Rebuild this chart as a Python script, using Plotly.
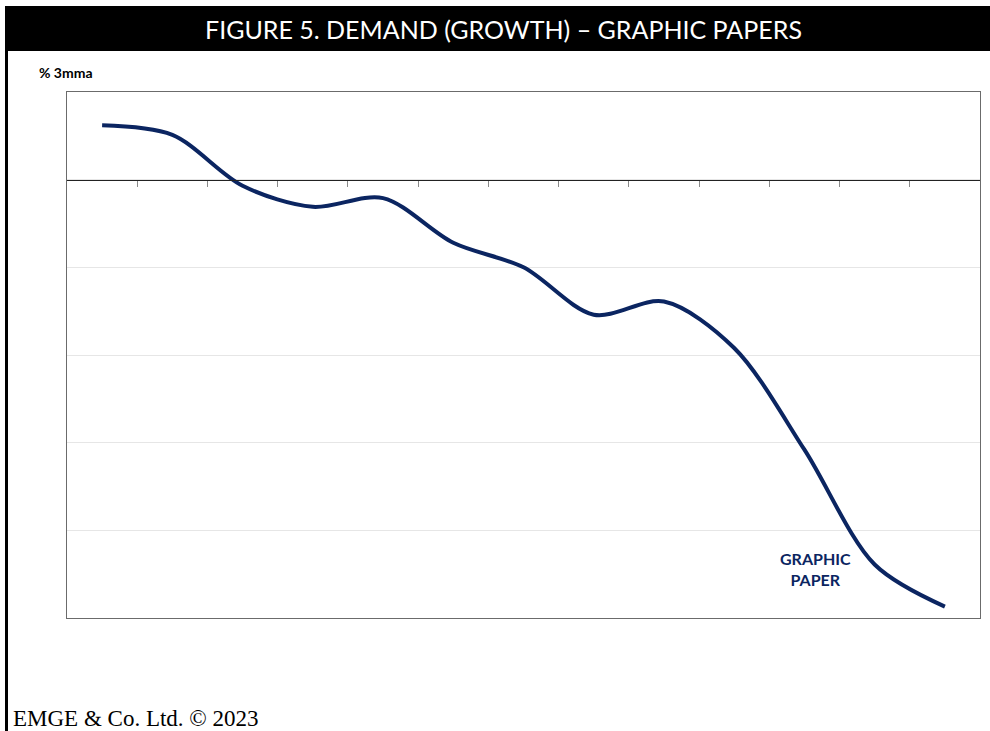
import plotly.graph_objects as go

# Data - % 3mma growth, 13 periods
periods = list(range(1, 14))
graphic_paper = [0.62, 0.51, -0.07, -0.31, -0.21, -0.72, -1.00, -1.54, -1.39, -1.92, -3.08, -4.39, -4.87]
y_range = [-5, 1]
grid_vals = [-4, -3, -2, -1, 0, 1]
boundaries = [p + 0.5 for p in periods[:-1]]

W, H = 990, 731
L, R, T, B = 67, 10, 92, 113
pw, ph = W - L - R, H - T - B

def px(X):
    return (X - L) / pw

def py(Y):
    return (H - B - Y) / ph

NAVY = "#0b2561"

fig = go.Figure()
fig.add_trace(go.Scatter(
    x=periods, y=graphic_paper, mode="lines",
    line=dict(color=NAVY, width=4, shape="spline", smoothing=0.9),
    hoverinfo="skip", showlegend=False, xaxis="x", yaxis="y"))
# invisible trace so the zero-line axis is drawn
fig.add_trace(go.Scatter(
    x=periods, y=[0] * len(periods), mode="lines",
    line=dict(color="rgba(0,0,0,0)", width=0),
    hoverinfo="skip", showlegend=False, xaxis="x2", yaxis="y"))

fig.update_layout(
    width=W, height=H,
    margin=dict(l=L, r=R, t=T, b=B),
    paper_bgcolor="white", plot_bgcolor="white",
    xaxis=dict(range=[0.5, 13.5], showgrid=False, zeroline=False,
               showticklabels=False, ticks="", showline=True,
               linecolor="#6b6b6b", linewidth=1.3, mirror=True),
    xaxis2=dict(range=[0.5, 13.5], overlaying="x", anchor="free",
                position=(0 - y_range[0]) / (y_range[1] - y_range[0]),
                side="bottom", showgrid=False, zeroline=False,
                showticklabels=False, ticks="outside", ticklen=6,
                tickwidth=1.3, tickcolor="#8a8a8a",
                tickvals=boundaries, showline=True,
                linecolor="#222222", linewidth=1.3),
    yaxis=dict(range=y_range, tickvals=grid_vals, showticklabels=False,
               showgrid=True, gridcolor="#e6e6e6", gridwidth=1,
               zeroline=False, ticks="", showline=True,
               linecolor="#6b6b6b", linewidth=1.3, mirror=True),
)

shapes = [
    # title bar
    dict(type="rect", xref="paper", yref="paper",
         x0=px(5), x1=px(990), y0=py(51), y1=py(6),
         fillcolor="black", line=dict(width=0), layer="below"),
    # left border
    dict(type="line", xref="paper", yref="paper",
         x0=px(6.5), x1=px(6.5), y0=py(731), y1=py(50),
         line=dict(color="black", width=3)),
]
fig.update_layout(shapes=shapes)

annotations = [
    dict(text="FIGURE 5. DEMAND (GROWTH) – GRAPHIC PAPERS",
         xref="paper", yref="paper", x=px(503), y=py(29),
         xanchor="center", yanchor="middle", showarrow=False,
         font=dict(family="Lato, Open Sans, sans-serif", size=25, color="white")),
    dict(text="<b>% 3mma</b>", xref="paper", yref="paper",
         x=px(37), y=py(73), xanchor="left", yanchor="middle", showarrow=False,
         font=dict(family="Lato, Open Sans, sans-serif", size=14, color="black")),
    dict(text="<b>GRAPHIC<br>PAPER</b>", xref="paper", yref="paper",
         x=px(815), y=py(569), xanchor="center", yanchor="middle", showarrow=False,
         align="center",
         font=dict(family="Lato, Open Sans, sans-serif", size=16, color=NAVY)),
    dict(text="EMGE &amp; Co. Ltd. © 2023", xref="paper", yref="paper",
         x=px(11), y=py(718), xanchor="left", yanchor="middle", showarrow=False,
         font=dict(family="Liberation Serif, DejaVu Serif, serif", size=23, color="black")),
]
fig.update_layout(annotations=annotations)

fig.write_html("out.html", config={"displayModeBar": False},
               post_script="document.body.style.margin='0';document.body.style.overflow='hidden';")
